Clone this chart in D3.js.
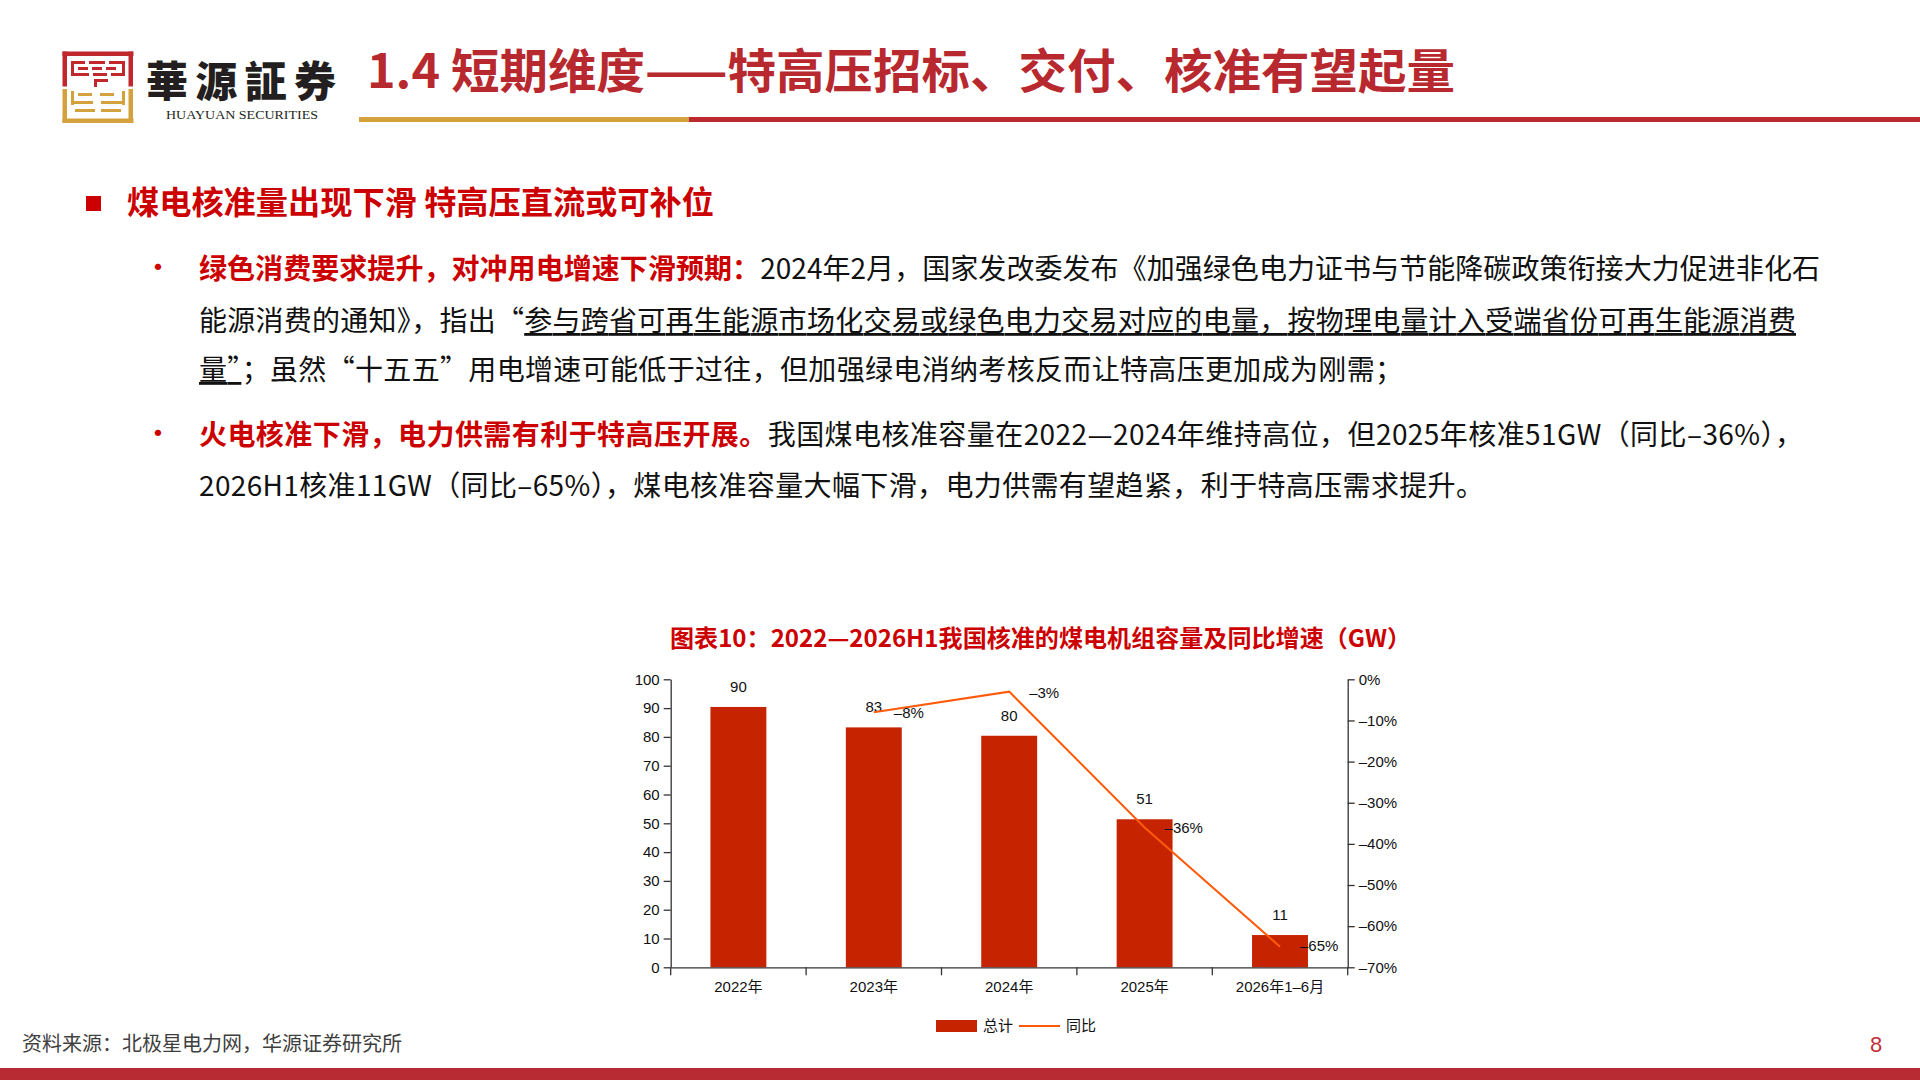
<!DOCTYPE html>
<html>
<head>
<meta charset="utf-8">
<script src="https://cdn.jsdelivr.net/npm/d3@7"></script>
<style>
  html, body { margin: 0; padding: 0; background: #fff; }
  svg { display: block; }
  text { font-family: "Noto Sans CJK SC", "Noto Sans", sans-serif; }
  .num { font-family: "Liberation Sans", Arial, "Noto Sans CJK SC", sans-serif; }
</style>
</head>
<body>
<svg id="page" width="1920" height="1080"></svg>
<script>
// ---------------- data ----------------
const categories = ["2022年", "2023年", "2024年", "2025年", "2026年1–6月"];
const totals = [90.4, 83.3, 80.4, 51.4, 11.2];      // GW
const yoy = [null, -8, -3, -36, -65];               // %
const leftTicks = [0, 10, 20, 30, 40, 50, 60, 70, 80, 90, 100];
const rightTicks = [0, -10, -20, -30, -40, -50, -60, -70];
const seriesNames = ["总计", "同比"];

const pageTitle = "1.4 短期维度——特高压招标、交付、核准有望起量";
const sectionTitle = "煤电核准量出现下滑 特高压直流或可补位";
const chartTitle = "图表10：2022—2026H1我国核准的煤电机组容量及同比增速（GW）";
const sourceText = "资料来源：北极星电力网，华源证券研究所";

// ---------------- colours ----------------
const RED_T = "#B8292F", RED_H = "#CC0000", GOLD = "#D4A23C";
const BAR = "#C62400", LINE = "#FF5A0A";

const svg = d3.select("#page");

// ---------------- header / logo ----------------
const logo = svg.append("g");
// red upper part
[[62.5, 51.5, 71, 4.5], [62.5, 51.5, 4.5, 35], [128.5, 51.5, 4.5, 35],
 [71, 61, 14, 3], [89, 61, 16, 3], [109, 61, 16, 3],
 [71, 61, 3, 13], [122, 61, 3, 13],
 [78, 67, 10, 3], [92, 67, 10, 3], [106, 67, 10, 3],
 [71, 73, 18, 3], [93, 73, 14, 3], [111, 73, 14, 3],
 [94, 79, 14, 3], [94, 79, 3, 8]
].forEach(r => logo.append("rect").attr("x", r[0]).attr("y", r[1]).attr("width", r[2]).attr("height", r[3]).attr("fill", "#C0282D"));
// gold lower part
[[62.5, 89, 4.5, 34], [62.5, 118.5, 71, 4.5], [128.5, 89, 4.5, 34],
 [71, 91, 3, 14], [122, 91, 3, 14],
 [78, 93, 14, 3], [100, 93, 14, 3],
 [71, 101, 22, 3], [101, 101, 24, 3],
 [75, 109, 20, 3], [101, 109, 20, 3]
].forEach(r => logo.append("rect").attr("x", r[0]).attr("y", r[1]).attr("width", r[2]).attr("height", r[3]).attr("fill", GOLD));

svg.append("text").attr("x", 146).attr("y", 97)
  .attr("font-family", "Noto Sans CJK TC").attr("font-weight", 900)
  .attr("font-size", 42).attr("fill", "#231F20")
  .attr("textLength", 190).attr("lengthAdjust", "spacing")
  .text("華源証券");
svg.append("text").attr("x", 166).attr("y", 119)
  .style("font-family", "'Liberation Serif', 'DejaVu Serif', serif")
  .attr("font-size", 13).attr("fill", "#231F20")
  .attr("textLength", 152).attr("lengthAdjust", "spacingAndGlyphs")
  .text("HUAYUAN SECURITIES");

svg.append("text").attr("x", 367).attr("y", 88)
  .attr("font-size", 47).attr("font-weight", 700).attr("fill", RED_T)
  .attr("textLength", 1088).attr("lengthAdjust", "spacingAndGlyphs")
  .text(pageTitle);

svg.append("rect").attr("x", 359).attr("y", 117).attr("width", 330).attr("height", 5).attr("fill", GOLD);
svg.append("rect").attr("x", 689).attr("y", 117).attr("width", 1231).attr("height", 5).attr("fill", "#BC2A30");

// ---------------- section heading ----------------
svg.append("rect").attr("x", 86).attr("y", 196).attr("width", 15).attr("height", 15).attr("fill", RED_H);
svg.append("text").attr("x", 127).attr("y", 214)
  .attr("font-size", 32).attr("font-weight", 700).attr("fill", RED_H)
  .attr("textLength", 587).attr("lengthAdjust", "spacingAndGlyphs")
  .text(sectionTitle);

// ---------------- body text ----------------
const bodyLines = [
  { y: 279, w: 1621, bullet: true, parts: [
    { t: "绿色消费要求提升，对冲用电增速下滑预期：", red: true },
    { t: "2024年2月，国家发改委发布《加强绿色电力证书与节能降碳政策衔接大力促进非化石" } ] },
  { y: 331, w: 1597, parts: [
    { t: "能源消费的通知》，指出“" },
    { t: "参与跨省可再生能源市场化交易或绿色电力交易对应的电量，按物理电量计入受端省份可再生能源消费", u: true } ] },
  { y: 380, w: 1204, parts: [
    { t: "量”", u: true },
    { t: "；虽然“十五五”用电增速可能低于过往，但加强绿电消纳考核反而让特高压更加成为刚需；" } ] },
  { y: 445, w: 1604, bullet: true, parts: [
    { t: "火电核准下滑，电力供需有利于特高压开展。", red: true },
    { t: "我国煤电核准容量在2022—2024年维持高位，但2025年核准51GW（同比–36%），" } ] },
  { y: 496, w: 1285, parts: [
    { t: "2026H1核准11GW（同比–65%），煤电核准容量大幅下滑，电力供需有望趋紧，利于特高压需求提升。" } ] }
];
bodyLines.forEach(line => {
  if (line.bullet) {
    svg.append("text").attr("x", 143).attr("y", line.y - 1).attr("font-size", 30)
      .attr("fill", RED_H).text("•");
  }
  const t = svg.append("text").attr("x", 199).attr("y", line.y).attr("font-size", 28)
    .attr("textLength", line.w).attr("lengthAdjust", "spacing");
  line.parts.forEach(p => {
    t.append("tspan")
      .attr("fill", p.red ? RED_H : "#111")
      .attr("font-weight", p.red ? 700 : 400)
      .style("text-decoration", p.u ? "underline" : "none")
      .text(p.t);
  });
});

// ---------------- chart ----------------
const X0 = 670.7, X1 = 1347.7, YT = 679.3, YB = 967.3;
const x = d3.scaleBand().domain(categories).range([X0, X1]).padding(0);
const y = d3.scaleLinear().domain([0, 100]).range([YB, YT]);
const y2 = d3.scaleLinear().domain([-70, 0]).range([YB, YT]);
const bw = x.bandwidth() * 0.413;

svg.append("text").attr("x", 670).attr("y", 647)
  .attr("font-size", 23.5).attr("font-weight", 700).attr("fill", RED_H)
  .attr("textLength", 741).attr("lengthAdjust", "spacingAndGlyphs")
  .text(chartTitle);

const chart = svg.append("g");

// bars
chart.selectAll("rect.bar").data(totals).join("rect")
  .attr("class", "bar")
  .attr("x", (d, i) => x(categories[i]) + (x.bandwidth() - bw) / 2)
  .attr("y", d => y(d))
  .attr("width", bw)
  .attr("height", d => YB - y(d))
  .attr("fill", BAR);

// bar labels
chart.selectAll("text.blab").data(totals).join("text")
  .attr("class", "blab num")
  .attr("x", (d, i) => x(categories[i]) + x.bandwidth() / 2)
  .attr("y", d => y(d) - 15)
  .attr("text-anchor", "middle").attr("font-size", 15).attr("fill", "#111")
  .text(d => d3.format(".0f")(d));

// axes
const axisStyle = g => {
  g.selectAll("path, line").attr("stroke", "#333").attr("stroke-width", 1.3);
  g.selectAll("text").attr("class", "num").attr("font-size", 15).attr("fill", "#111")
    .style("font-family", "'Liberation Sans', Arial, sans-serif");
};
chart.append("g").attr("transform", `translate(${X0},0)`)
  .call(d3.axisLeft(y).tickValues(leftTicks).tickSize(7).tickSizeOuter(0).tickPadding(4))
  .call(axisStyle);
chart.append("g").attr("transform", `translate(${X1},0)`)
  .call(d3.axisRight(y2).tickValues(rightTicks).tickSize(7).tickSizeOuter(0).tickPadding(4)
    .tickFormat(d => d === 0 ? "0%" : "–" + Math.abs(d) + "%"))
  .call(axisStyle);
const xg = chart.append("g").attr("transform", `translate(0,${YB})`)
  .call(d3.axisBottom(x).tickSize(0).tickSizeOuter(0).tickPadding(14))
  .call(axisStyle);
xg.selectAll(".tick text").style("font-family", "'Liberation Sans', 'Noto Sans CJK SC', sans-serif");
// boundary ticks
const bounds = categories.map(c => x(c)).concat([X1]);
xg.selectAll("line.bt").data(bounds).join("line").attr("class", "bt")
  .attr("x1", d => d).attr("x2", d => d).attr("y1", 0).attr("y2", 8)
  .attr("stroke", "#333").attr("stroke-width", 1.3);

// yoy line
const pts = yoy.map((v, i) => ({ v, c: categories[i] })).filter(d => d.v !== null);
chart.append("path").datum(pts)
  .attr("fill", "none").attr("stroke", LINE).attr("stroke-width", 2)
  .attr("d", d3.line().x(d => x(d.c) + x.bandwidth() / 2).y(d => y2(d.v)));
chart.selectAll("text.ylab").data(pts).join("text")
  .attr("class", "ylab num")
  .attr("x", d => x(d.c) + x.bandwidth() / 2 + 20)
  .attr("y", d => y2(d.v) + (d.v < -50 ? 4 : 6))
  .attr("font-size", 15).attr("fill", "#111")
  .text(d => "–" + Math.abs(d.v) + "%");

// legend
const lg = svg.append("g");
lg.append("rect").attr("x", 936).attr("y", 1020).attr("width", 41).attr("height", 12).attr("fill", BAR);
lg.append("text").attr("x", 983).attr("y", 1031).attr("font-size", 15).attr("fill", "#111").text(seriesNames[0]);
lg.append("line").attr("x1", 1019).attr("x2", 1060).attr("y1", 1026).attr("y2", 1026)
  .attr("stroke", LINE).attr("stroke-width", 2);
lg.append("text").attr("x", 1066).attr("y", 1031).attr("font-size", 15).attr("fill", "#111").text(seriesNames[1]);

// ---------------- footer ----------------
svg.append("text").attr("x", 22).attr("y", 1051).attr("font-size", 20).attr("fill", "#404040").text(sourceText);
svg.append("text").attr("x", 1876).attr("y", 1052).attr("text-anchor", "middle")
  .attr("class", "num").attr("font-size", 22).attr("fill", "#C0303A").text("8");
svg.append("rect").attr("x", 0).attr("y", 1068).attr("width", 1920).attr("height", 12).attr("fill", "#B92B33");
</script>
</body>
</html>
